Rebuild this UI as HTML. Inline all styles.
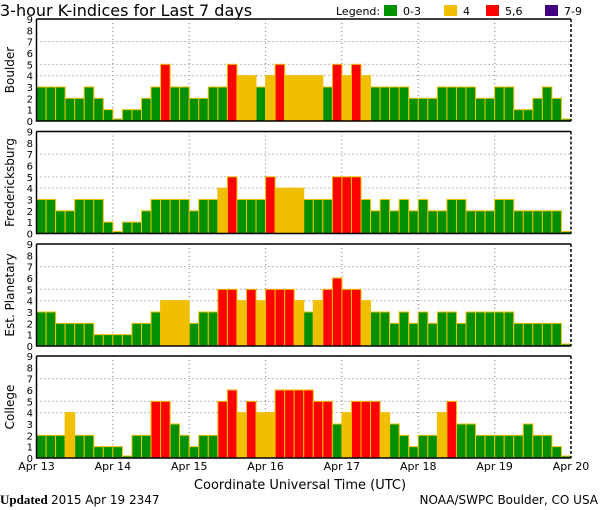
<!DOCTYPE html>
<html><head><meta charset="utf-8">
<style>
body{margin:0;background:#fff;}
svg{display:block;font-family:"DejaVu Sans","Liberation Sans",sans-serif;}
</style></head>
<body>
<svg id="chart" width="600" height="510" viewBox="0 0 600 510" xmlns="http://www.w3.org/2000/svg">
<text x="0" y="16" font-size="16">3-hour K-indices for Last 7 days</text>
<g font-size="11">
<text x="336" y="15">Legend:</text>
<rect x="384" y="5" width="13" height="11" fill="#009000"/><text x="403" y="15">0-3</text>
<rect x="444" y="5" width="13" height="11" fill="#f0c000"/><text x="463" y="15">4</text>
<rect x="486" y="5" width="13" height="11" fill="#ff0000"/><text x="505" y="15">5,6</text>
<rect x="545" y="5" width="13" height="11" fill="#400080"/><text x="564" y="15">7-9</text>
</g>
<g id="panels"></g>
<g id="xaxis" font-size="11"></g>
<text x="300" y="489" font-size="13" text-anchor="middle">Coordinate Universal Time (UTC)</text>
<text x="0" y="504" font-size="13" font-family="Liberation Serif,serif"><tspan font-weight="bold">Updated</tspan> <tspan font-family="DejaVu Sans,sans-serif" font-size="12">2015 Apr 19 2347</tspan></text>
<text x="598" y="504" font-size="12" text-anchor="end">NOAA/SWPC Boulder, CO USA</text>
</svg>
<script>
const stations = ["Boulder","Fredericksburg","Est. Planetary","College"];
const dayLabels = ["Apr 13","Apr 14","Apr 15","Apr 16","Apr 17","Apr 18","Apr 19","Apr 20"];
const boulder = [3,3,3,2,2,3,2,1, 0,1,1,2,3,5,3,3, 2,2,3,3,5,4,4,3, 4,5,4,4,4,4,3,5, 4,5,4,3,3,3,3,2, 2,2,3,3,3,3,2,2, 3,3,1,1,2,3,2,0];
const fredericksburg = [3,3,2,2,3,3,3,1, 0,1,1,2,3,3,3,3, 2,3,3,4,5,3,3,3, 5,4,4,4,3,3,3,5, 5,5,3,2,3,2,3,2, 3,2,2,3,3,2,2,2, 3,3,2,2,2,2,2,0];
const planetary = [3,3,2,2,2,2,1,1, 1,1,2,2,3,4,4,4, 2,3,3,5,5,4,5,4, 5,5,5,4,3,4,5,6, 5,5,4,3,3,2,3,2, 3,2,3,3,2,3,3,3, 3,3,2,2,2,2,2,0];
const college = [2,2,2,4,2,2,1,1, 1,0,2,2,5,5,3,2, 1,2,2,5,6,4,5,4, 4,6,6,6,6,5,5,3, 4,5,5,5,4,3,2,1, 2,2,4,5,3,3,2,2, 2,2,2,3,2,2,1,0];
const yTicks = [0,1,2,3,4,5,6,7,8,9];
const series = [boulder, fredericksburg, planetary, college];

const NS = "http://www.w3.org/2000/svg";
const L = 36.5, R = 571, panelTops = [19,131.5,244,356], PH = 102;
const nBars = 56;
const xOf = i => L + (R - L) * i / nBars;
const dayX = d => L + (R - L) * d / 7;
function mk(tag, attrs, parent){const e=document.createElementNS(NS,tag);for(const k in attrs)e.setAttribute(k,attrs[k]);parent.appendChild(e);return e;}
function color(v){return v<=3?"#009000":v==4?"#f0c000":v<=6?"#ff0000":"#400080";}
const panelsG = document.getElementById("panels");
series.forEach((vals, p) => {
  const top = panelTops[p], bot = top + PH;
  const yOf = v => bot - PH * v / 9;
  const g = mk("g", {}, panelsG);
  
  
  [4,5,7].forEach(v => {
    const ln = mk("line", {x1:L, x2:R, y1:yOf(v), y2:yOf(v), stroke:"#777", "stroke-dasharray":"1 3"}, g);
    
    
  });
  for (let d=1; d<7; d++){
    const ln = mk("line", {x1:dayX(d), x2:dayX(d), y1:top, y2:bot, stroke:"#777", "stroke-dasharray":"1 3"}, g);
    
    
  }
  vals.forEach((v, i) => {
    const x0 = xOf(i), x1 = xOf(i+1);
    const h = v === 0 ? 2 : bot - yOf(v);
    const r = mk("rect", {x:x0, y:bot-h, width:x1-x0, height:h, fill:color(v), stroke:"#f0c000", "stroke-width":1}, g);
    
    
  });
  const ax = mk("path", {d:`M${L},${top} L${L},${bot} L${R},${bot} M${L},${top} L${R},${top}`, stroke:"#000", fill:"none", "stroke-width":1.5}, g);
  
  
  const rt = mk("line", {x1:R, x2:R, y1:top, y2:bot, stroke:"#000", "stroke-dasharray":"3 2", "stroke-width":1.5}, g);
  
  
  yTicks.forEach(t => {
    const tx = mk("text", {x:33, y:yOf(t)+4, "font-size":10, "text-anchor":"end"}, g);
    tx.textContent = t;
    
    
  });
  const yl = mk("text", {transform:`translate(14,${top+PH/2}) rotate(-90)`, "font-size":12, "text-anchor":"middle"}, g);
  yl.textContent = stations[p];
  
  
});
const xg = document.getElementById("xaxis");
dayLabels.forEach((lab, d) => {
  const t = mk("text", {x:dayX(d), y:470, "text-anchor":"middle"}, xg);
  t.textContent = lab;
  
  
});
</script>
</body></html>
